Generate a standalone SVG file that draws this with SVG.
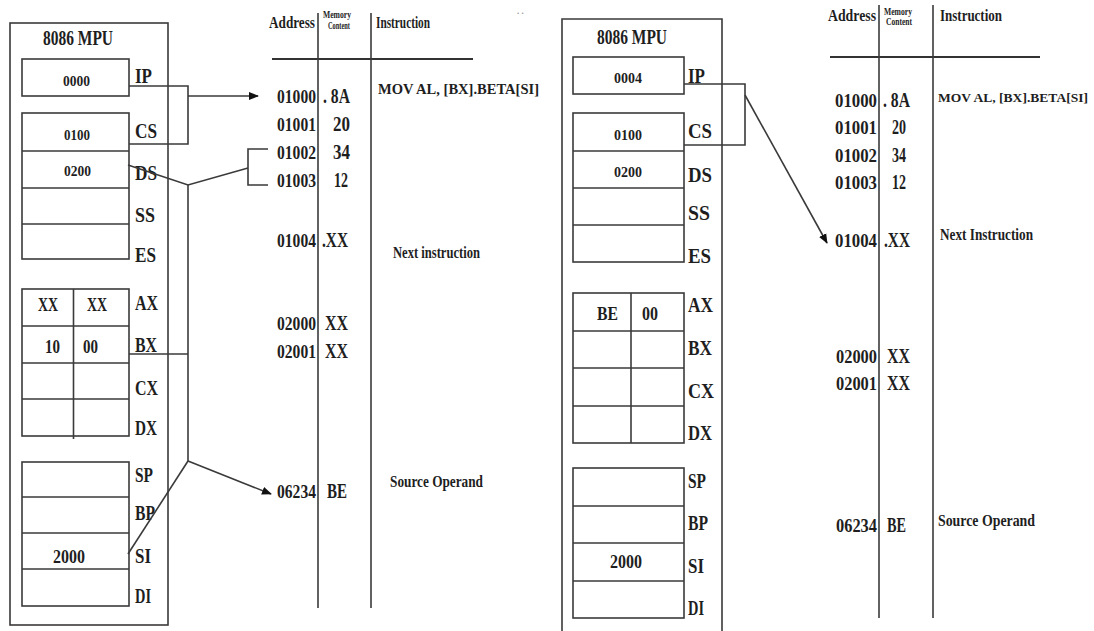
<svg xmlns="http://www.w3.org/2000/svg" width="1094" height="631" viewBox="0 0 1094 631">
<defs>
<style>
.bx{fill:none;stroke:#3a3a3a;stroke-width:1.6}
.ln{fill:none;stroke:#3a3a3a;stroke-width:1.6}
.hd{fill:none;stroke:#333;stroke-width:2.2}
text{font-family:"Liberation Serif","Times New Roman",serif;font-weight:bold;fill:#1e1e1e}
.lb{font-size:22px}
.rv{font-size:15px}
.rv2{font-size:18px}
.ttl{font-size:20px}
.m{font-size:20px}
.a{font-size:18px}
.h{font-size:17px}
.s{font-size:10px}
.n{font-size:16px}
</style>
<marker id="ah" viewBox="0 0 10 10" refX="9" refY="5" markerWidth="10" markerHeight="10" markerUnits="userSpaceOnUse" orient="auto">
<path d="M0,1 L10,5 L0,9 Z" fill="#111"/>
</marker>
</defs>
<rect width="1094" height="631" fill="#fff"/>

<!-- LEFT MPU -->
<g id="mpu-left">
<rect class="bx" x="10" y="23" width="158" height="602"/>
<text class="ttl" x="43" y="45" textLength="70" lengthAdjust="spacingAndGlyphs">8086 MPU</text>
<rect class="bx" x="22" y="59" width="107" height="37"/>
<text class="rv" x="63" y="86" textLength="27" lengthAdjust="spacingAndGlyphs">0000</text>
<rect class="bx" x="22" y="113" width="107" height="146"/>
<line class="bx" x1="22" y1="151" x2="129" y2="151"/>
<line class="bx" x1="22" y1="188" x2="129" y2="188"/>
<line class="bx" x1="22" y1="224" x2="129" y2="224"/>
<text class="rv" x="64" y="140" textLength="26" lengthAdjust="spacingAndGlyphs">0100</text>
<text class="rv" x="64" y="176" textLength="27" lengthAdjust="spacingAndGlyphs">0200</text>
<rect class="bx" x="22" y="289" width="107" height="147"/>
<line class="bx" x1="22" y1="326" x2="129" y2="326"/>
<line class="bx" x1="22" y1="363" x2="129" y2="363"/>
<line class="bx" x1="22" y1="399" x2="129" y2="399"/>
<line class="bx" x1="73.5" y1="289" x2="73.5" y2="439"/>
<text class="rv2" x="38" y="311" textLength="20" lengthAdjust="spacingAndGlyphs">XX</text>
<text class="rv2" x="87" y="311" textLength="20" lengthAdjust="spacingAndGlyphs">XX</text>
<text class="rv2" x="45" y="353" textLength="15" lengthAdjust="spacingAndGlyphs">10</text>
<text class="rv2" x="83" y="353" textLength="15" lengthAdjust="spacingAndGlyphs">00</text>
<rect class="bx" x="22" y="462" width="107" height="144"/>
<line class="bx" x1="22" y1="497" x2="129" y2="497"/>
<line class="bx" x1="22" y1="533" x2="129" y2="533"/>
<line class="bx" x1="22" y1="569" x2="129" y2="569"/>
<text class="rv2" x="53" y="563" textLength="32" lengthAdjust="spacingAndGlyphs">2000</text>
<text class="lb" x="135" y="83" textLength="17" lengthAdjust="spacingAndGlyphs">IP</text>
<text class="lb" x="135" y="138" textLength="22" lengthAdjust="spacingAndGlyphs">CS</text>
<text class="lb" x="135" y="180" textLength="22" lengthAdjust="spacingAndGlyphs">DS</text>
<text class="lb" x="135" y="222" textLength="20" lengthAdjust="spacingAndGlyphs">SS</text>
<text class="lb" x="135" y="262" textLength="21" lengthAdjust="spacingAndGlyphs">ES</text>
<text class="lb" x="135" y="310" textLength="23" lengthAdjust="spacingAndGlyphs">AX</text>
<text class="lb" x="135" y="352" textLength="22" lengthAdjust="spacingAndGlyphs">BX</text>
<text class="lb" x="135" y="395" textLength="23" lengthAdjust="spacingAndGlyphs">CX</text>
<text class="lb" x="135" y="435" textLength="22" lengthAdjust="spacingAndGlyphs">DX</text>
<text class="lb" x="135" y="482" textLength="18" lengthAdjust="spacingAndGlyphs">SP</text>
<text class="lb" x="135" y="520" textLength="20" lengthAdjust="spacingAndGlyphs">BP</text>
<text class="lb" x="135" y="563" textLength="16" lengthAdjust="spacingAndGlyphs">SI</text>
<text class="lb" x="135" y="603" textLength="16" lengthAdjust="spacingAndGlyphs">DI</text>
</g>

<!-- LEFT MEMORY TABLE -->
<g id="mem-left">
<text class="h" x="269" y="28" textLength="46" lengthAdjust="spacingAndGlyphs">Address</text>
<text class="s" x="323" y="18" textLength="28" lengthAdjust="spacingAndGlyphs">Memory</text>
<text class="s" x="328" y="29" textLength="22" lengthAdjust="spacingAndGlyphs">Content</text>
<text class="h" x="376" y="28" textLength="54" lengthAdjust="spacingAndGlyphs">Instruction</text>
<line class="hd" x1="272" y1="59" x2="473" y2="59"/>
<line class="ln" x1="318" y1="13" x2="318" y2="608"/>
<line class="ln" x1="371" y1="13" x2="371" y2="608"/>
<text class="a" x="277" y="103" textLength="39" lengthAdjust="spacingAndGlyphs">01000</text>
<text class="m" x="323" y="103" textLength="27" lengthAdjust="spacingAndGlyphs">. 8A</text>
<text class="a" x="277" y="131" textLength="39" lengthAdjust="spacingAndGlyphs">01001</text>
<text class="m" x="333" y="131" textLength="17" lengthAdjust="spacingAndGlyphs">20</text>
<text class="a" x="277" y="159" textLength="39" lengthAdjust="spacingAndGlyphs">01002</text>
<text class="m" x="333" y="159" textLength="17" lengthAdjust="spacingAndGlyphs">34</text>
<text class="a" x="277" y="187" textLength="39" lengthAdjust="spacingAndGlyphs">01003</text>
<text class="m" x="334" y="187" textLength="14" lengthAdjust="spacingAndGlyphs">12</text>
<text class="a" x="277" y="247" textLength="39" lengthAdjust="spacingAndGlyphs">01004</text>
<text class="m" x="322" y="247" textLength="26" lengthAdjust="spacingAndGlyphs">.XX</text>
<text class="a" x="277" y="330" textLength="39" lengthAdjust="spacingAndGlyphs">02000</text>
<text class="m" x="325" y="330" textLength="23" lengthAdjust="spacingAndGlyphs">XX</text>
<text class="a" x="277" y="358" textLength="39" lengthAdjust="spacingAndGlyphs">02001</text>
<text class="m" x="325" y="358" textLength="23" lengthAdjust="spacingAndGlyphs">XX</text>
<text class="a" x="277" y="498" textLength="39" lengthAdjust="spacingAndGlyphs">06234</text>
<text class="m" x="327" y="498" textLength="20" lengthAdjust="spacingAndGlyphs">BE</text>
<text x="378" y="94" font-size="14" textLength="161" lengthAdjust="spacingAndGlyphs">MOV AL, [BX].BETA[SI]</text>
<text class="n" x="393" y="258" textLength="87" lengthAdjust="spacingAndGlyphs">Next instruction</text>
<text class="n" x="390" y="487" textLength="93" lengthAdjust="spacingAndGlyphs">Source Operand</text>
<text x="517" y="14" font-size="9" style="fill:#999">. .</text>
</g>

<!-- RIGHT MPU -->
<g id="mpu-right">
<polyline class="bx" points="562,633 562,19 722,19 722,633"/>
<text class="ttl" x="597" y="44" textLength="70" lengthAdjust="spacingAndGlyphs">8086 MPU</text>
<rect class="bx" x="573" y="57" width="111" height="37"/>
<text class="rv" x="614" y="83" textLength="28" lengthAdjust="spacingAndGlyphs">0004</text>
<rect class="bx" x="573" y="113" width="111" height="149"/>
<line class="bx" x1="573" y1="151" x2="684" y2="151"/>
<line class="bx" x1="573" y1="188" x2="684" y2="188"/>
<line class="bx" x1="573" y1="225" x2="684" y2="225"/>
<text class="rv" x="614" y="140" textLength="28" lengthAdjust="spacingAndGlyphs">0100</text>
<text class="rv" x="614" y="177" textLength="28" lengthAdjust="spacingAndGlyphs">0200</text>
<rect class="bx" x="573" y="293" width="111" height="150"/>
<line class="bx" x1="573" y1="331" x2="684" y2="331"/>
<line class="bx" x1="573" y1="368" x2="684" y2="368"/>
<line class="bx" x1="573" y1="406" x2="684" y2="406"/>
<line class="bx" x1="631" y1="293" x2="631" y2="443"/>
<text class="rv2" x="597" y="320" textLength="21" lengthAdjust="spacingAndGlyphs">BE</text>
<text class="rv2" x="642" y="320" textLength="16" lengthAdjust="spacingAndGlyphs">00</text>
<rect class="bx" x="573" y="468" width="111" height="150"/>
<line class="bx" x1="573" y1="506" x2="684" y2="506"/>
<line class="bx" x1="573" y1="543" x2="684" y2="543"/>
<line class="bx" x1="573" y1="581" x2="684" y2="581"/>
<text class="rv2" x="610" y="568" textLength="32" lengthAdjust="spacingAndGlyphs">2000</text>
<text class="lb" x="688" y="83" textLength="17" lengthAdjust="spacingAndGlyphs">IP</text>
<text class="lb" x="688" y="138" textLength="24" lengthAdjust="spacingAndGlyphs">CS</text>
<text class="lb" x="688" y="182" textLength="24" lengthAdjust="spacingAndGlyphs">DS</text>
<text class="lb" x="688" y="220" textLength="22" lengthAdjust="spacingAndGlyphs">SS</text>
<text class="lb" x="688" y="263" textLength="23" lengthAdjust="spacingAndGlyphs">ES</text>
<text class="lb" x="688" y="312" textLength="25" lengthAdjust="spacingAndGlyphs">AX</text>
<text class="lb" x="688" y="355" textLength="24" lengthAdjust="spacingAndGlyphs">BX</text>
<text class="lb" x="688" y="398" textLength="26" lengthAdjust="spacingAndGlyphs">CX</text>
<text class="lb" x="688" y="440" textLength="24" lengthAdjust="spacingAndGlyphs">DX</text>
<text class="lb" x="688" y="488" textLength="18" lengthAdjust="spacingAndGlyphs">SP</text>
<text class="lb" x="688" y="530" textLength="20" lengthAdjust="spacingAndGlyphs">BP</text>
<text class="lb" x="688" y="573" textLength="16" lengthAdjust="spacingAndGlyphs">SI</text>
<text class="lb" x="688" y="615" textLength="16" lengthAdjust="spacingAndGlyphs">DI</text>
</g>

<!-- RIGHT MEMORY TABLE -->
<g id="mem-right">
<text class="h" x="828" y="21" textLength="48" lengthAdjust="spacingAndGlyphs">Address</text>
<text class="s" x="884" y="15" textLength="28" lengthAdjust="spacingAndGlyphs">Memory</text>
<text class="s" x="886" y="25" textLength="26" lengthAdjust="spacingAndGlyphs">Content</text>
<text class="h" x="940" y="21" textLength="62" lengthAdjust="spacingAndGlyphs">Instruction</text>
<line class="hd" x1="830" y1="57" x2="1040" y2="57"/>
<line class="ln" x1="879" y1="5" x2="879" y2="618"/>
<line class="ln" x1="933" y1="5" x2="933" y2="618"/>
<text class="a" x="835" y="107" textLength="42" lengthAdjust="spacingAndGlyphs">01000</text>
<text class="m" x="883" y="107" textLength="27" lengthAdjust="spacingAndGlyphs">. 8A</text>
<text class="a" x="835" y="134" textLength="42" lengthAdjust="spacingAndGlyphs">01001</text>
<text class="m" x="892" y="134" textLength="14" lengthAdjust="spacingAndGlyphs">20</text>
<text class="a" x="835" y="162" textLength="42" lengthAdjust="spacingAndGlyphs">01002</text>
<text class="m" x="892" y="162" textLength="14" lengthAdjust="spacingAndGlyphs">34</text>
<text class="a" x="835" y="189" textLength="42" lengthAdjust="spacingAndGlyphs">01003</text>
<text class="m" x="892" y="189" textLength="14" lengthAdjust="spacingAndGlyphs">12</text>
<text class="a" x="835" y="247" textLength="42" lengthAdjust="spacingAndGlyphs">01004</text>
<text class="m" x="884" y="247" textLength="26" lengthAdjust="spacingAndGlyphs">.XX</text>
<text class="a" x="836" y="363" textLength="41" lengthAdjust="spacingAndGlyphs">02000</text>
<text class="m" x="887" y="363" textLength="23" lengthAdjust="spacingAndGlyphs">XX</text>
<text class="a" x="836" y="390" textLength="41" lengthAdjust="spacingAndGlyphs">02001</text>
<text class="m" x="887" y="390" textLength="23" lengthAdjust="spacingAndGlyphs">XX</text>
<text class="a" x="836" y="532" textLength="41" lengthAdjust="spacingAndGlyphs">06234</text>
<text class="m" x="887" y="532" textLength="19" lengthAdjust="spacingAndGlyphs">BE</text>
<text x="938" y="102" font-size="13.5" textLength="150" lengthAdjust="spacingAndGlyphs">MOV AL, [BX].BETA[SI]</text>
<text class="n" x="940" y="240" textLength="93" lengthAdjust="spacingAndGlyphs">Next Instruction</text>
<text class="n" x="938" y="526" textLength="97" lengthAdjust="spacingAndGlyphs">Source Operand</text>
</g>

<!-- CONNECTORS -->
<g id="connectors">
<polyline class="ln" points="129,86 188,86 188,144 129,144"/>
<line class="ln" x1="188" y1="96" x2="258" y2="96" marker-end="url(#ah)"/>
<polyline class="ln" points="128,165 188,185 248,168"/>
<polyline class="ln" points="268,149 248,149 248,185 268,185"/>
<line class="ln" x1="188" y1="185" x2="188" y2="461"/>
<line class="ln" x1="129" y1="354" x2="188" y2="354"/>
<line class="ln" x1="188" y1="461" x2="128" y2="554"/>
<line class="ln" x1="188" y1="461" x2="271" y2="494" marker-end="url(#ah)"/>
<polyline class="ln" points="684,84 745,84 745,145 684,145"/>
<line class="ln" x1="745" y1="95" x2="827" y2="243" marker-end="url(#ah)"/>
</g>
</svg>
